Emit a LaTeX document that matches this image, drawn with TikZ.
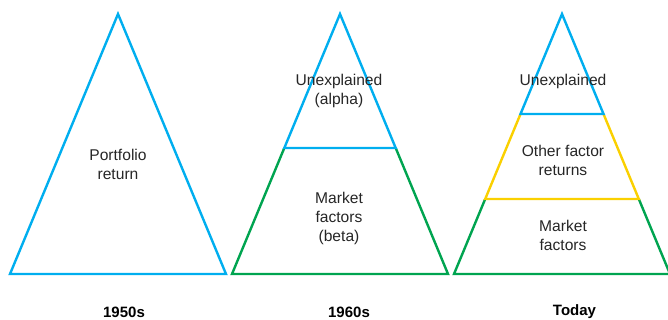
\documentclass[tikz,border=0pt]{standalone}
\usepackage{fontspec}
\setmainfont{Liberation Sans}
\usepackage{tikz}
\usetikzlibrary{positioning}
\definecolor{pyrblue}{RGB}{0,174,239}
\definecolor{pyrgreen}{RGB}{0,164,80}
\definecolor{pyryellow}{RGB}{250,208,0}

\begin{document}
\begin{tikzpicture}[x=1pt, y=-1pt, line width=2.4pt, line join=miter,
    lbl/.style={align=center, font=\fontsize{15.6}{19}\selectfont, text=black!85},
    era/.style={font=\fontsize{15}{18}\selectfont\bfseries}]
        \useasboundingbox (0,0) rectangle (668,320);
        \begin{scope}
        \clip (0,0) rectangle (668,320);
        % 1950s
        \draw[pyrblue] (118,14) -- (226,274) -- (10,274) -- cycle;
        % 1960s
        \draw[pyrgreen] (284.3,148) -- (232,274) -- (448,274) -- (395.7,148);
        \draw[pyrblue] (284.3,148) -- (340,14) -- (395.7,148) -- cycle;
        % Today
        \draw[pyrgreen] (485.2,199) -- (454,274) -- (670,274) -- (638.8,199);
        \draw[pyryellow] (520.5,114) -- (485.2,199) -- (638.8,199) -- (603.5,114);
        \draw[pyrblue] (520.5,114) -- (562,14) -- (603.5,114) -- cycle;
        \end{scope}
        \node[lbl] (portfolio) at (118,164) {Portfolio\\return};
        \node[lbl] (alpha) at (339,91) {Unexplained\\(alpha)};
        \node[lbl] (beta) at (339,218) {Market\\factors\\(beta)};
        \node[lbl] (unexpl) at (563,81) {Unexplained};
        \node[lbl] (other) at (563,160.5) {Other factor\\returns};
        \node[lbl] (market) at (563,235.5) {Market\\factors};
        \node[era] (y1950) at (124,312) {1950s};
        \node[era] (y1960) at (349,312) {1960s};
        \node[era] (today) at (574.5,312) {Today};
    \end{tikzpicture}
\end{document}
